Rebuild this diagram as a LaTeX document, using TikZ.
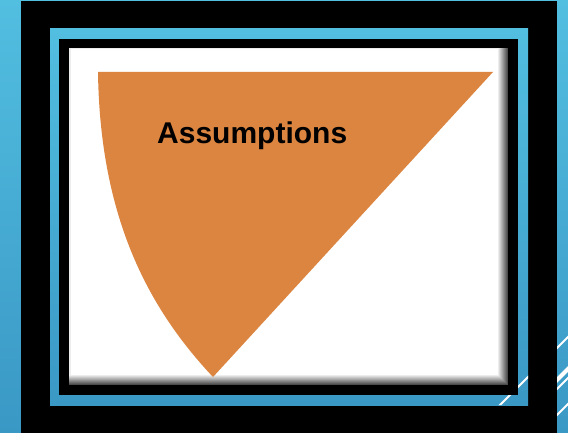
\documentclass[tikz,border=0pt]{standalone}
\usepackage{fontspec}
\setmainfont{Liberation Sans}
\usetikzlibrary{positioning}

\definecolor{wedgeorange}{RGB}{220,133,64}
\definecolor{skytop}{RGB}{82,190,224}
\definecolor{skybot}{RGB}{58,152,197}

\begin{document}
\begin{tikzpicture}[x=1pt, y=-1pt, titletext/.style={font=\bfseries\fontsize{30}{36}\selectfont, inner sep=0pt, anchor=base west}, stripe/.style={white, line width=#1}]
\useasboundingbox (0,0) rectangle (568,433);
% background and frames
\shade[top color=skytop, bottom color=skybot] (0,0) rectangle (568,433);
\fill[black] (21,1) rectangle (557,433);
\shade[top color=skytop, bottom color=skybot] (50,29) rectangle (528,405);
\fill[black] (59,39) rectangle (518,395);
% white panel with soft edge
\foreach \i in {0,...,9}{
  \pgfmathtruncatemacro\shadepct{30+7*\i}
  \fill[white!\shadepct!black] (69,48) rectangle ({508-\i},{385-\i});
}
\fill[white] (70.5,49.5) rectangle (498,375);
% stripes on the blue parts
\begin{scope}[even odd rule]
\clip (0,0) rectangle (568,433) (21,1) rectangle (557,433)
  (50,29) rectangle (528,405) (59,39) rectangle (518,395);
\draw[stripe=2pt] (470,435) -- (570,335);
\draw[stripe=4pt] (502,435) -- (570,367);
\draw[stripe=2pt] (511,435) -- (570,376);
\draw[stripe=2pt] (537,435) -- (570,402);
\end{scope}
% wedge
\coordinate (tl) at (98,72);
\coordinate (tr) at (493,72);
\coordinate (tip) at (213,377);
\fill[wedgeorange] (tl) -- (tr) -- (tip) .. controls (150,310) and (100,220) .. (tl) -- cycle;
\node[titletext] (assume) at (157,144) {Assumptions};
\end{tikzpicture}
\end{document}
